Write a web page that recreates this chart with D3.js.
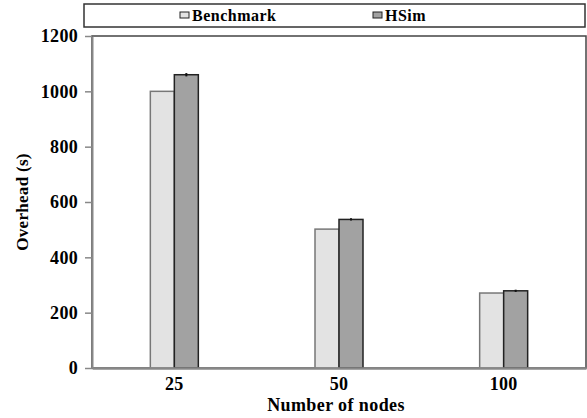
<!DOCTYPE html>
<html>
<head>
<meta charset="utf-8">
<script src="https://cdn.jsdelivr.net/npm/d3@7"></script>
</head>
<body style="margin:0; background:#fff">
<div id="chart"></div>
<script>
// data
const categories = ["25", "50", "100"];
const seriesNames = ["Benchmark", "HSim"];
const benchmark = [1000, 502, 271];
const hsim = [1060, 537, 279];
const hsimErr = [6, 4, 4];
const yTicks = [0, 200, 400, 600, 800, 1000, 1200];

const width = 587, height = 418;
const margin = {top: 36, right: 1, bottom: 50, left: 92};
const serif = "'Liberation Serif'";

const svg = d3.select("#chart").append("svg")
  .attr("width", width)
  .attr("height", height)
  .style("font-family", serif)
  .style("font-weight", "bold");

const x0 = d3.scaleBand()
  .domain(categories)
  .range([margin.left, width - margin.right])
  .padding(0);

const barW = 24;
const x1 = d3.scaleBand()
  .domain(seriesNames)
  .range([-barW, barW]);

const y = d3.scaleLinear()
  .domain([0, 1200])
  .range([height - margin.bottom, margin.top]);

const fills = {Benchmark: "#e3e3e3", HSim: "#a2a2a2"};
const strokes = {Benchmark: "#777", HSim: "#222"};

// plot frame (top/right)
svg.append("rect")
  .attr("x", margin.left)
  .attr("y", margin.top)
  .attr("width", width - margin.right - margin.left)
  .attr("height", height - margin.bottom - margin.top)
  .attr("fill", "none")
  .attr("stroke", "#444")
  .attr("stroke-width", 1.5);

// bars
const rows = categories.map((c, i) => ({cat: c, vals: [
  {name: "Benchmark", v: benchmark[i], err: 0},
  {name: "HSim", v: hsim[i], err: hsimErr[i]}
]}));

const groups = svg.selectAll(".grp")
  .data(rows)
  .enter()
  .append("g")
  .attr("class", "grp")
  .attr("transform", d => `translate(${x0(d.cat) + x0.bandwidth() / 2},0)`);

groups.selectAll("rect")
  .data(d => d.vals)
  .enter()
  .append("rect")
  .attr("x", d => x1(d.name))
  .attr("y", d => y(d.v))
  .attr("width", x1.bandwidth())
  .attr("height", d => y(0) - y(d.v))
  .attr("fill", d => fills[d.name])
  .attr("stroke", d => strokes[d.name])
  .attr("stroke-width", 1.5);

// error bars on HSim
groups.selectAll(".err")
  .data(d => d.vals.filter(v => v.err > 0))
  .enter()
  .append("line")
  .attr("class", "err")
  .attr("x1", d => x1(d.name) + x1.bandwidth() / 2)
  .attr("x2", d => x1(d.name) + x1.bandwidth() / 2)
  .attr("y1", d => y(d.v + d.err))
  .attr("y2", d => y(d.v - d.err))
  .attr("stroke", "#111")
  .attr("stroke-width", 2);

function styleTicks(g) {
  g.selectAll(".tick text")
    .attr("fill", "#000")
    .style("font-family", serif)
    .style("font-weight", "bold")
    .style("font-size", "18px")
    .style("letter-spacing", "0.3px");
}

// y axis
const yAxis = svg.append("g")
  .attr("transform", `translate(${margin.left},0)`)
  .call(d3.axisLeft(y).tickValues(yTicks).tickFormat(d3.format("d"))
    .tickSize(7).tickPadding(7).tickSizeOuter(0));
yAxis.select(".domain").attr("stroke", "#888").attr("stroke-width", 2);
yAxis.selectAll(".tick line").attr("stroke", "#888").attr("stroke-width", 1.5);
styleTicks(yAxis);

// x axis
const xAxis = svg.append("g")
  .attr("transform", `translate(0,${y(0)})`)
  .call(d3.axisBottom(x0).tickSize(0).tickPadding(9).tickSizeOuter(0));
xAxis.select(".domain").attr("stroke", "#888").attr("stroke-width", 2.5);
styleTicks(xAxis);

// axis titles
svg.append("text")
  .attr("x", 336)
  .attr("y", 411)
  .attr("text-anchor", "middle")
  .style("font-family", serif)
  .style("font-size", "18px")
  .style("letter-spacing", "0.4px")
  .text("Number of nodes");

svg.append("text")
  .attr("transform", `translate(28,${(margin.top + height - margin.bottom) / 2}) rotate(-90)`)
  .attr("text-anchor", "middle")
  .style("font-family", serif)
  .style("font-size", "17px")
  .style("letter-spacing", "0.3px")
  .text("Overhead (s)");

// legend
const legend = svg.append("g");
legend.append("rect")
  .attr("x", 84)
  .attr("y", 4)
  .attr("width", 501)
  .attr("height", 23)
  .attr("fill", "#fff")
  .attr("stroke", "#333")
  .attr("stroke-width", 1.5);

const legendX = [180, 373];
const items = legend.selectAll(".item")
  .data(seriesNames)
  .enter()
  .append("g")
  .attr("class", "item")
  .attr("transform", (d, i) => `translate(${legendX[i]},15)`);

items.append("rect")
  .attr("x", 0)
  .attr("y", -3)
  .attr("width", 9)
  .attr("height", 6)
  .attr("fill", d => fills[d])
  .attr("stroke", "#222")
  .attr("stroke-width", 1);

items.append("text")
  .attr("x", 12)
  .attr("y", 6)
  .style("font-family", serif)
  .style("font-size", "16px")
  .style("letter-spacing", "0.5px")
  .text(d => d);
</script>
</body>
</html>
